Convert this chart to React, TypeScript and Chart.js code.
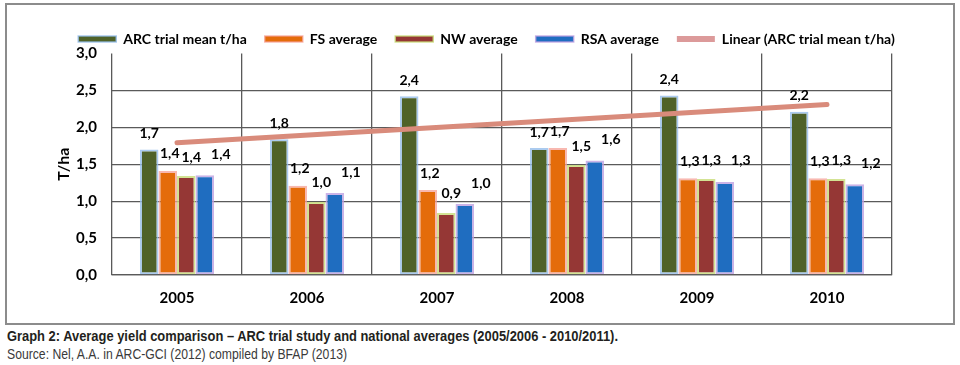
import React, { useEffect, useLayoutEffect, useRef } from "react";
import { Chart, registerables } from "chart.js";

Chart.register(...registerables);

const years = ["2005", "2006", "2007", "2008", "2009", "2010"];
const arcMean = [1.7, 1.84, 2.42, 1.72, 2.43, 2.21];
const fsAverage = [1.41, 1.21, 1.15, 1.72, 1.31, 1.31];
const nwAverage = [1.34, 0.99, 0.84, 1.49, 1.3, 1.3];
const rsaAverage = [1.35, 1.11, 0.96, 1.55, 1.26, 1.23];
const arcLabels = ["1,7", "1,8", "2,4", "1,7", "2,4", "2,2"];
const fsLabels = ["1,4", "1,2", "1,2", "1,7", "1,3", "1,3"];
const nwLabels = ["1,4", "1,0", "0,9", "1,5", "1,3", "1,3"];
const rsaLabels = ["1,4", "1,1", "1,0", "1,6", "1,3", "1,2"];
const trendLine = [1.79, null, null, null, null, 2.31];
const yTickLabels = ["0,0", "0,5", "1,0", "1,5", "2,0", "2,5", "3,0"];

const captionTitle =
  "Graph 2: Average yield comparison – ARC trial study and national averages (2005/2006 - 2010/2011).";
const captionSource = "Source: Nel, A.A. in ARC-GCI (2012) compiled by BFAP (2013)";

const FONT = "Lato, 'Open Sans', sans-serif";

const valueLabels = {
  id: "valueLabels",
  afterDatasetsDraw(chart: any) {
    const ctx = chart.ctx;
    ctx.save();
    ctx.font = `bold 14px ${FONT}`;
    ctx.fillStyle = "#000";
    ctx.textAlign = "center";
    ctx.textBaseline = "middle";
    chart.data.datasets.forEach((ds: any, di: number) => {
      const labels = ds.valueLabels;
      if (!labels) return;
      const meta = chart.getDatasetMeta(di);
      meta.data.forEach((el: any, i: number) => {
        ctx.fillText(labels[i], el.x + ds.labelDx, el.y + ds.labelDy);
      });
    });
    ctx.restore();
  },
};

const legendHeight = {
  id: "legendHeight",
  afterInit(chart: any) {
    const lg = chart.legend;
    if (!lg) return;
    const fit = lg.fit.bind(lg);
    lg.fit = function () {
      fit();
      this.height = 39.5;
    };
  },
};

function ChartView() {
  const ref = useRef<HTMLCanvasElement | null>(null);
  useEffect(() => {
    if (!ref.current) return;
    const gridColor = "#5a5a5a";
    const chart = new Chart(ref.current, {
      type: "bar",
      data: {
        labels: years,
        datasets: [
          {
            label: "ARC trial mean t/ha",
            data: arcMean,
            backgroundColor: "#4F6228",
            borderColor: "rgba(150,190,235,0.8)",
            borderWidth: 2,
            borderSkipped: false,
            categoryPercentage: 0.57,
            barPercentage: 1,
            valueLabels: arcLabels,
            labelDx: 0,
            labelDy: -16,
          } as any,
          {
            label: "FS average",
            data: fsAverage,
            backgroundColor: "#E46C0A",
            borderColor: "rgba(245,160,150,0.75)",
            borderWidth: 2,
            borderSkipped: false,
            categoryPercentage: 0.57,
            barPercentage: 1,
            valueLabels: fsLabels,
            labelDx: 2,
            labelDy: -17,
          },
          {
            label: "NW average",
            data: nwAverage,
            backgroundColor: "#953735",
            borderColor: "rgba(200,220,120,0.8)",
            borderWidth: 2,
            borderSkipped: false,
            categoryPercentage: 0.57,
            barPercentage: 1,
            valueLabels: nwLabels,
            labelDx: 5,
            labelDy: -19,
          },
          {
            label: "RSA average",
            data: rsaAverage,
            backgroundColor: "#1F6DC0",
            borderColor: "rgba(190,160,225,0.8)",
            borderWidth: 2,
            borderSkipped: false,
            categoryPercentage: 0.57,
            barPercentage: 1,
            valueLabels: rsaLabels,
            labelDx: 16,
            labelDy: -21,
          },
          {
            type: "line",
            label: "Linear (ARC trial mean t/ha)",
            data: trendLine,
            spanGaps: true,
            borderColor: "#D98B7B",
            backgroundColor: "#DC9A9A",
            borderWidth: 5,
            borderCapStyle: "round",
            pointRadius: 0,
            order: -1,
          },
        ] as any,
      },
      options: {
        animation: false,
        responsive: false,
        layout: { padding: { top: 9, left: 13, right: 0, bottom: 0 } },
        plugins: {
          tooltip: { enabled: false },
          legend: {
            position: "top",
            labels: {
              boxWidth: 38,
              boxHeight: 6,
              padding: 18,
              color: "#000",
              font: { family: FONT, size: 14, weight: "bold" },
              sort: (a: any, b: any) => a.datasetIndex - b.datasetIndex,
              generateLabels: (chart: any) => {
                const items = Chart.defaults.plugins.legend.labels.generateLabels(chart);
                return items.map((it: any) => {
                  if (it.datasetIndex === 4) {
                    return { ...it, lineWidth: 0, fillStyle: "#DC9A9A", strokeStyle: "#DC9A9A" };
                  }
                  return { ...it, lineWidth: 1.5 };
                });
              },
            },
          },
        },
        scales: {
          x: {
            grid: { color: gridColor, lineWidth: 1.3, drawTicks: false, offset: true },
            border: { display: true, color: gridColor, width: 1.3 },
            ticks: {
              color: "#000",
              padding: 14,
              font: { family: FONT, size: 15, weight: "bold" },
            },
            afterFit: (s: any) => {
              s.height = 48;
            },
          },
          y: {
            min: 0,
            max: 3,
            ticks: {
              stepSize: 0.5,
              padding: 15,
              color: "#000",
              font: { family: FONT, size: 15, weight: "bold" },
              callback: (_v: any, i: number) => yTickLabels[i],
            },
            grid: {
              drawTicks: false,
              lineWidth: 1.3,
              color: (c: any) => (c.tick && c.tick.value === 3 ? "rgba(0,0,0,0)" : gridColor),
            },
            border: { display: false },
            title: {
              display: true,
              text: "T/ha",
              color: "#000",
              font: { family: FONT, size: 16, weight: "bold" },
              padding: { top: 34, bottom: 0 },
            },
            afterFit: (s: any) => {
              s.width = 92;
            },
          },
          y2: {
            position: "right",
            display: true,
            min: 0,
            max: 3,
            grid: { display: false, drawTicks: false },
            border: { display: false },
            ticks: { display: false },
            afterFit: (s: any) => {
              s.width = 61;
            },
          },
        },
      } as any,
      plugins: [valueLabels, legendHeight],
    });
    return () => chart.destroy();
  }, []);
  return <canvas ref={ref} width={946} height={318} style={{ width: 946, height: 318, display: "block" }} />;
}

function FitText({ text, width, style }: { text: string; width: number; style: React.CSSProperties }) {
  const ref = useRef<HTMLSpanElement | null>(null);
  useLayoutEffect(() => {
    const el = ref.current;
    if (!el) return;
    el.style.transform = "none";
    const w = el.getBoundingClientRect().width;
    if (w > 0) el.style.transform = `scaleX(${width / w})`;
  }, [text, width]);
  return (
    <div style={{ height: style.lineHeight as any }}>
      <span
        ref={ref}
        style={{ ...style, display: "inline-block", whiteSpace: "nowrap", transformOrigin: "0 50%" }}
      >
        {text}
      </span>
    </div>
  );
}

export default function App() {
  return (
    <div style={{ position: "relative", width: 960, height: 365, background: "#fff", overflow: "hidden" }}>
      <style>{"body{margin:0;background:#fff}"}</style>
      <div
        style={{
          position: "absolute",
          left: 5,
          top: 3,
          width: 950,
          height: 322,
          border: "2px solid #8c8c8c",
          boxSizing: "border-box",
        }}
      >
        <ChartView />
      </div>
      <div
        style={{
          position: "absolute",
          left: 7,
          top: 327,
          fontFamily: "'Liberation Sans', Arial, sans-serif",
          color: "#231f20",
        }}
      >
        <FitText
          text={captionTitle}
          width={611}
          style={{ fontSize: 15, fontWeight: "bold", lineHeight: "18px" }}
        />
        <FitText text={captionSource} width={340} style={{ fontSize: 14, lineHeight: "16px", color: "#3a3a3a" }} />
      </div>
    </div>
  );
}
